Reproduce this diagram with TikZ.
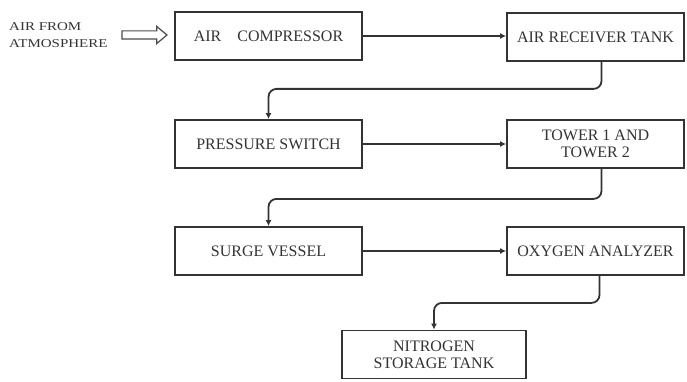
\documentclass[tikz,border=0pt]{standalone}
\usepackage{fontspec}
\setmainfont{Liberation Serif}
\newfontfamily\widefont[FakeStretch=1.25]{Liberation Serif}
\usetikzlibrary{arrows.meta,shapes.arrows}

\begin{document}
\begin{tikzpicture}[>={Latex[length=6pt,width=6pt]},x=1pt,y=-1pt,
  block/.style={draw=black!80,line width=1.8pt,minimum height=48pt,text=black!80,font=\fontsize{16}{17}\selectfont,align=center,inner sep=2pt},
  leftblock/.style={block,minimum width=187pt},
  rightblock/.style={block,minimum width=177pt},
  flow/.style={->,draw=black!80,line width=1.8pt,rounded corners=8pt}]
  \useasboundingbox (0,0) rectangle (687,382);

  % Source of air
  \node[anchor=west,align=left,text=black!80,font=\widefont\fontsize{12}{17}\selectfont,inner sep=0pt] (src) at (9,35) {AIR FROM\\ATMOSPHERE};
  \node[single arrow,draw=black!70,line width=1.2pt,inner sep=3.5pt,minimum height=45pt,single arrow head extend=4.5pt,single arrow tip angle=80] (inarrow) at (142,35) {};

  % Blocks, left column
  \node[leftblock] (comp) at (268.5,36) {AIR\quad COMPRESSOR};
  \node[leftblock] (psw) at (268.5,144) {PRESSURE SWITCH};
  \node[leftblock] (surge) at (268.5,251) {SURGE VESSEL};

  % Blocks, right column
  \node[rightblock] (recv) at (595.5,37) {AIR RECEIVER TANK};
  \node[rightblock] (tower) at (595.5,144) {TOWER 1 AND\\TOWER 2};
  \node[rightblock] (oxy) at (595.5,251) {OXYGEN ANALYZER};

  % Last block
  \node[block,minimum width=184pt] (nitro) at (434,354.5) {NITROGEN\\STORAGE TANK};

  % Flow between blocks
  \draw[flow] (comp.east) -- (comp.east -| recv.west);
  \draw[flow] ([xshift=6pt]recv.south) -- ++(0,27) -| (psw.north);
  \draw[flow] (psw.east) -- (psw.east -| tower.west);
  \draw[flow] ([xshift=6pt]tower.south) -- ++(0,30) -| (surge.north);
  \draw[flow] (surge.east) -- (surge.east -| oxy.west);
  \draw[flow] ([xshift=4pt]oxy.south) -- ++(0,27) -| (nitro.north);
\end{tikzpicture}
\end{document}
